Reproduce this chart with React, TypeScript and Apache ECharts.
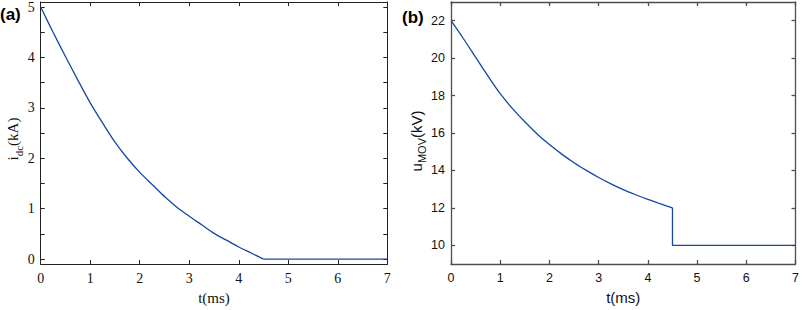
import React, { useEffect, useRef } from "react";
import * as echarts from "echarts";

// ---- data ----
// (a) DC current i_dc (kA) vs t (ms)
const tA = [0, 0.25, 0.5, 0.75, 1, 1.25, 1.5, 1.75, 2, 2.25, 2.5, 2.75, 3, 3.25, 3.5, 3.75, 4, 4.25, 4.5];
const iDc = [5, 4.5, 4.02, 3.55, 3.1, 2.7, 2.32, 2.0, 1.72, 1.48, 1.24, 1.03, 0.85, 0.68, 0.51, 0.375, 0.24, 0.12, 0];
const tATail = [4.5, 7];
const iDcTail = [0, 0];

// (b) MOV voltage u_MOV (kV) vs t (ms)
const tB = [0, 0.25, 0.5, 0.75, 1, 1.25, 1.5, 1.75, 2, 2.25, 2.5, 2.75, 3, 3.25, 3.5, 3.75, 4, 4.25, 4.5];
const uMov = [22, 21.05, 20.05, 19.05, 18.1, 17.3, 16.6, 15.95, 15.38, 14.87, 14.41, 14.0, 13.62, 13.28, 12.97, 12.7, 12.45, 12.22, 12.0];
const tBTail = [4.5, 4.5, 7];
const uMovTail = [12.0, 10, 10];

const xTicks = [0, 1, 2, 3, 4, 5, 6, 7];
const yTicksA = [0, 0.5, 1, 1.5, 2, 2.5, 3, 3.5, 4, 4.5, 5];
const yLabelsA = [0, 1, 2, 3, 4, 5];
const yTicksB = [10, 12, 14, 16, 18, 20, 22];

const LINE = "#1447a6";
const SERIF = "Liberation Serif, Times New Roman, serif";
const SANS = "Liberation Sans, Arial, sans-serif";

export default function App() {
  const ref = useRef<HTMLDivElement>(null);
  useEffect(() => {
    if (!ref.current) return;
    const chart = echarts.init(ref.current, undefined, { renderer: "svg" });
    const axA = { color: "#222", width: 1 };
    const axB = { color: "#4d4d4d", width: 1.3 };
    const xBase = (grid: number, pos: "bottom" | "top", font: string, ax: any, show: boolean, name?: string, gap?: number) => ({
      type: "value",
      gridIndex: grid,
      position: pos,
      min: 0,
      max: 7,
      interval: 1,
      axisLine: { show: true, onZero: false, lineStyle: ax },
      axisTick: { show: true, inside: true, length: 4, lineStyle: ax, customValues: xTicks },
      axisLabel: { show, margin: 7, fontFamily: font, fontSize: font === SERIF ? 14 : 12.5, color: "#111", customValues: xTicks },
      splitLine: { show: false },
      name: name,
      nameLocation: "middle",
      nameGap: gap,
      nameTextStyle: { fontFamily: font, fontSize: 15, color: "#111" },
    });
    const yBase = (grid: number, pos: "left" | "right", font: string, ax: any, show: boolean, min: number, max: number, ticks: number[], labels: number[]) => ({
      type: "value",
      gridIndex: grid,
      position: pos,
      min,
      max,
      axisLine: { show: true, onZero: false, lineStyle: ax },
      axisTick: { show: true, inside: true, length: 4, lineStyle: ax, customValues: ticks },
      axisLabel: { show, margin: 6, fontFamily: font, fontSize: font === SERIF ? 14 : 12.5, color: "#111", customValues: labels },
      splitLine: { show: false },
    });
    const lineStyle = { color: LINE, width: 1.3 };
    chart.setOption({
      animation: false,
      backgroundColor: "#fff",
      grid: [
        { left: 40.7, top: 2, right: 414.7, bottom: 37, containLabel: false },
        { left: 451, top: 2, right: 4, bottom: 39.7, containLabel: false },
      ],
      xAxis: [
        xBase(0, "bottom", SERIF, axA, true, "t(ms)", 15),
        xBase(0, "top", SERIF, axA, false),
        xBase(1, "bottom", SANS, axB, true, "t(ms)", 26),
        xBase(1, "top", SANS, axB, false),
      ],
      yAxis: [
        yBase(0, "left", SERIF, axA, true, -0.1, 5.1, yTicksA, yLabelsA),
        yBase(0, "right", SERIF, axA, false, -0.1, 5.1, yTicksA, yLabelsA),
        yBase(1, "left", SANS, axB, true, 9, 23, yTicksB, yTicksB),
        yBase(1, "right", SANS, axB, false, 9, 23, yTicksB, yTicksB),
      ],
      series: [
        {
          type: "line",
          xAxisIndex: 0,
          yAxisIndex: 0,
          showSymbol: false,
          smooth: 0.3,
          lineStyle,
          data: tA.map((t, k) => [t, iDc[k]]),
        },
        {
          type: "line",
          xAxisIndex: 0,
          yAxisIndex: 0,
          showSymbol: false,
          lineStyle,
          data: tATail.map((t, k) => [t, iDcTail[k]]),
        },
        {
          type: "line",
          xAxisIndex: 2,
          yAxisIndex: 2,
          showSymbol: false,
          smooth: 0.3,
          lineStyle,
          data: tB.map((t, k) => [t, uMov[k]]),
        },
        {
          type: "line",
          xAxisIndex: 2,
          yAxisIndex: 2,
          showSymbol: false,
          lineStyle,
          data: tBTail.map((t, k) => [t, uMovTail[k]]),
        },
      ],
      graphic: [
        {
          type: "text",
          left: 0,
          top: 6,
          style: { text: "(a)", fontFamily: SANS, fontWeight: "bold", fontSize: 17, fill: "#000" },
        },
        {
          type: "text",
          left: 402,
          top: 9,
          style: { text: "(b)", fontFamily: SANS, fontWeight: "bold", fontSize: 17, fill: "#000" },
        },
        {
          type: "text",
          x: 13,
          y: 139,
          rotation: Math.PI / 2,
          style: {
            text: "{a|i}{s|dc}{a|(kA)}",
            align: "center",
            verticalAlign: "middle",
            rich: {
              a: { fontFamily: SERIF, fontSize: 15, lineHeight: 22, fill: "#111", verticalAlign: "middle" },
              s: { fontFamily: SERIF, fontSize: 11, lineHeight: 12, fill: "#111", verticalAlign: "bottom" },
            },
          },
        },
        {
          type: "text",
          x: 416,
          y: 141,
          rotation: Math.PI / 2,
          style: {
            text: "{a|u}{s|MOV}{a|(kV)}",
            align: "center",
            verticalAlign: "middle",
            rich: {
              a: { fontFamily: SANS, fontSize: 15, lineHeight: 22, fill: "#111", verticalAlign: "middle" },
              s: { fontFamily: SANS, fontSize: 11, lineHeight: 12, fill: "#111", verticalAlign: "bottom" },
            },
          },
        },
      ],
    });
    return () => chart.dispose();
  }, []);
  return <div ref={ref} style={{ position: "fixed", left: 0, top: 0, width: 802, height: 310 }} />;
}
